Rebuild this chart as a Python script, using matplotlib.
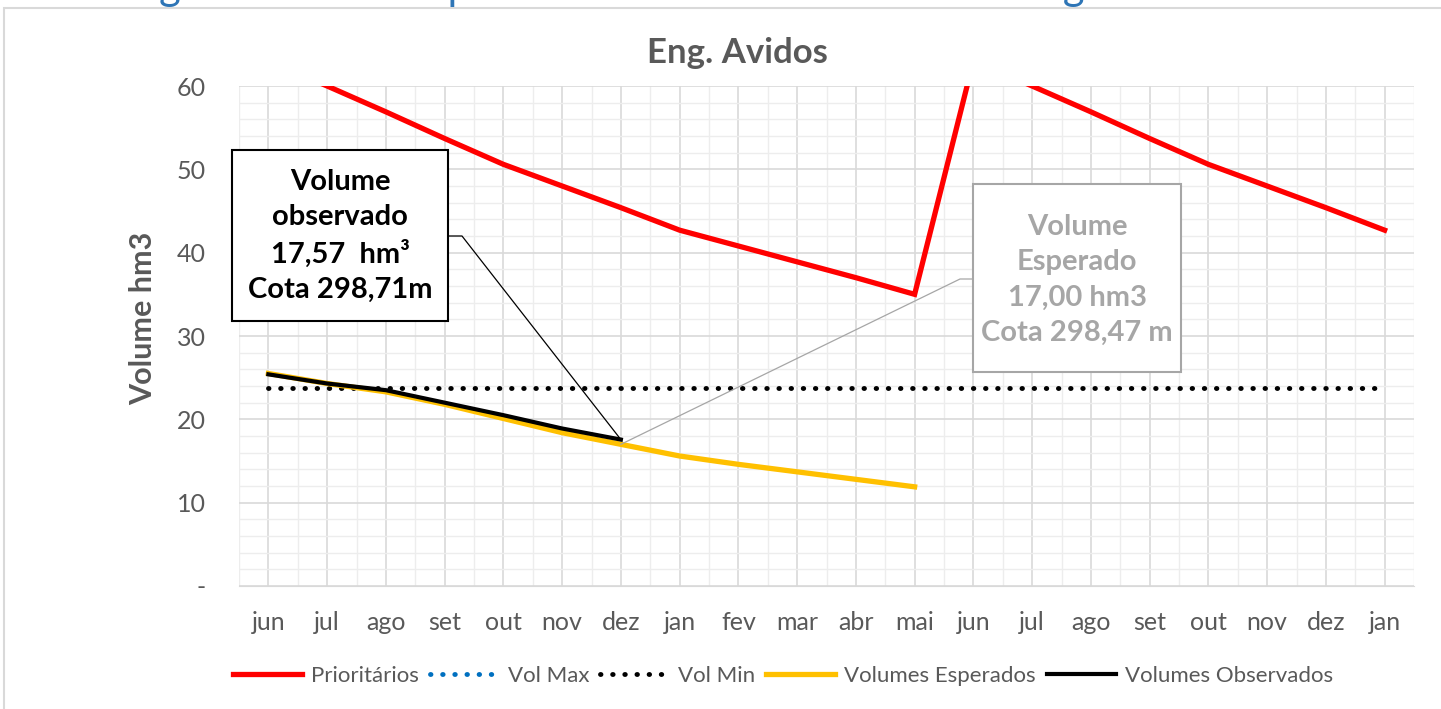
import numpy as np
import matplotlib.pyplot as plt
from matplotlib.patches import Rectangle
from matplotlib.ticker import MultipleLocator

# ======================
# Dados
# ======================
meses = ["jun", "jul", "ago", "set", "out", "nov", "dez", "jan", "fev", "mar",
         "abr", "mai", "jun", "jul", "ago", "set", "out", "nov", "dez", "jan"]

prioritarios = [63.0, 60.0, 56.9, 53.7, 50.6, 48.0, 45.4, 42.7, 40.8, 38.9,
                37.0, 35.0, 63.0, 60.0, 56.9, 53.7, 50.6, 48.0, 45.4, 42.7]
vol_max = [64.3] * 20
vol_min = [23.8] * 20
vol_esperados = [25.5, 24.3, 23.3, 21.8, 20.1, 18.4, 17.0, 15.6, 14.6, 13.7,
                 12.8, 11.9]
vol_observados = [25.4, 24.3, 23.5, 22.0, 20.5, 18.9, 17.57]

txt_obs = "Volume\nobservado\n17,57  hm³\nCota 298,71m"
txt_esp = "Volume\nEsperado\n17,00 hm3\nCota 298,47 m"

GRAY = "#595959"
plt.rcParams['font.family'] = ['Lato', 'DejaVu Sans']

# ======================
# Figura
# ======================
W, H = 1441, 709
fig = plt.figure(figsize=(W / 100, H / 100), dpi=100)
ax = fig.add_axes([239 / W, 1 - 586 / H, 1175 / W, 500 / H])

x = np.arange(len(meses))
ax.plot(x, prioritarios, color="#FF0000", lw=3.8, label="Prioritários",
        solid_joinstyle="miter", zorder=3)
ax.plot(x, vol_max, color="#0070C0", lw=3.5, ls=(0, (0.1, 2.4)),
        dash_capstyle="round", label="Vol Max", zorder=3)
ax.plot(x, vol_min, color="black", lw=3.5, ls=(0, (0.1, 2.4)),
        dash_capstyle="round", label="Vol Min", zorder=3)
ax.plot(x[:len(vol_esperados)], vol_esperados, color="#FFC000", lw=3.8,
        label="Volumes Esperados", zorder=4)
ax.plot(x[:len(vol_observados)], vol_observados, color="black", lw=3.0,
        label="Volumes Observados", zorder=5)

ax.set_xlim(-0.5, len(meses) - 0.5)
ax.set_ylim(0, 60)
ax.set_xticks(x)
ax.set_xticklabels(meses)
ax.set_yticks(np.arange(0, 61, 10))
ax.set_yticklabels(["-"] + [str(v) for v in range(10, 61, 10)])
ax.yaxis.set_minor_locator(MultipleLocator(2))
ax.xaxis.set_minor_locator(MultipleLocator(0.5))
ax.tick_params(axis="both", which="both", length=0, colors=GRAY, labelsize=18)
ax.tick_params(axis="y", pad=24)
ax.tick_params(axis="x", pad=18)

ax.grid(which="major", color="#D9D9D9", lw=1.2)
ax.grid(which="minor", color="#EDEDED", lw=1.0)
ax.set_axisbelow(True)
for s in ["top", "right", "left"]:
    ax.spines[s].set_visible(False)
ax.spines["bottom"].set_color("#D9D9D9")

ax.set_ylabel("Volume hm3", fontsize=22, fontweight="bold", color=GRAY)
ax.yaxis.set_label_coords(-0.07, 0.536)

fig.text(737 / W, 1 - 53 / H, "Eng. Avidos", ha="center", va="center",
         fontsize=25, fontweight="bold", color=GRAY)

# título cortado (acima do gráfico)
fig.text(40 / W, 1.0, "Curva guia: Volume esperado x Volume Observado – Eng. Avidos",
         ha="left", va="baseline", fontsize=30, color="#2E75B6")

# moldura do gráfico
fig.patches.append(Rectangle((4 / W, -0.1), 1.2, 1 - 8 / H + 0.1,
                             transform=fig.transFigure, fill=False,
                             edgecolor="#D9D9D9", lw=1.5))

# ======================
# Caixas de anotação
# ======================
def px2data(px, py):
    return ((px - 239) / 58.75 - 0.5, (586 - py) / (500 / 60))

# observado
ax.add_patch(Rectangle(px2data(232, 321), 216 / 58.75, 171 / (500 / 60),
                       fill=True, facecolor="white", edgecolor="black",
                       lw=1.5, clip_on=False, zorder=6))
cx, cy = px2data(340, 236)
ax.text(cx, cy, txt_obs, ha="center", va="center", fontsize=21,
        fontweight="bold", color="black", linespacing=1.43, zorder=7)
i_obs = len(vol_observados) - 1
p1 = px2data(448, 236)
p2 = px2data(462, 236)
ax.plot([p1[0], p2[0], x[i_obs]], [p1[1], p2[1], vol_observados[i_obs]],
        color="black", lw=0.9, zorder=6)

# esperado
ax.add_patch(Rectangle(px2data(973, 372), 208 / 58.75, 188 / (500 / 60),
                       fill=True, facecolor="white", edgecolor="#A6A6A6",
                       lw=1.5, clip_on=False, zorder=6))
cx, cy = px2data(1077, 280)
ax.text(cx, cy, txt_esp, ha="center", va="center", fontsize=21,
        fontweight="bold", color="#A6A6A6", linespacing=1.43, zorder=7)
p1 = px2data(973, 279)
p2 = px2data(960, 279)
ax.plot([p1[0], p2[0], x[6]], [p1[1], p2[1], vol_esperados[6]],
        color="#A6A6A6", lw=0.9, zorder=6)

# ======================
# Legenda
# ======================
fig.legend(loc="center", bbox_to_anchor=(783 / W, 1 - 676 / H), ncol=5,
           frameon=False, fontsize=16, handlelength=3.1, handletextpad=0.4,
           columnspacing=0.5, labelcolor=GRAY)

fig.savefig("out.png", dpi=100)
